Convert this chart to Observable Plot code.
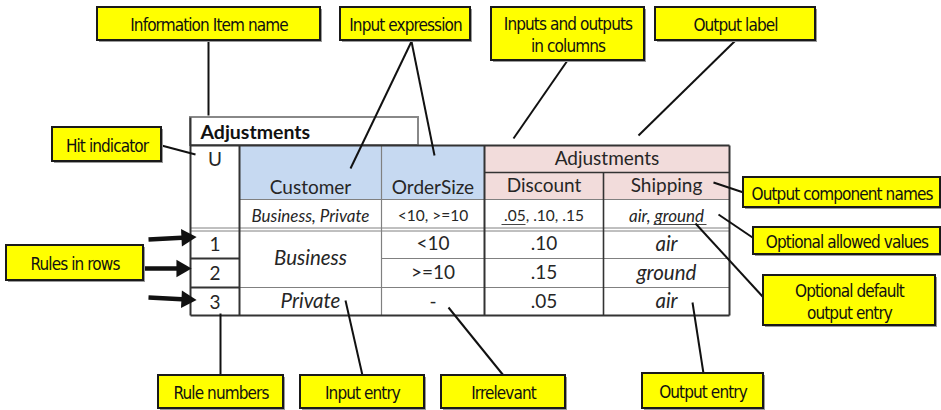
<!DOCTYPE html>
<html><head><meta charset="utf-8">
<script src="https://cdn.jsdelivr.net/npm/d3@7"></script>
<script src="https://cdn.jsdelivr.net/npm/@observablehq/plot@0.6"></script>
<style>
body{margin:0;background:#fff} svg{display:block}
g[font-family*="Narrow"] text{letter-spacing:-0.9px}
</style>
</head><body><div id="chart"></div>
<script>
// ---- table content ----
const tableTitle = "Adjustments";
const hitPolicy = "U";
const inputNames = ["Customer", "OrderSize"];
const outputLabel = "Adjustments";
const outputNames = ["Discount", "Shipping"];
const inputAllowed = ["Business, Private", "<10, >=10"];
const outputAllowed = [".05, .10, .15", "air, ground"];
const ruleNumbers = ["1", "2", "3"];
const customerEntries = ["Business", "Private"];   // Business spans rules 1-2
const orderSizeEntries = ["<10", ">=10", "-"];
const discountEntries = [".10", ".15", ".05"];
const shippingEntries = ["air", "ground", "air"];

// ---- callout content ----
const calloutLabels = [
  "Information Item name", "Input expression", "Inputs and outputs\nin columns", "Output label",
  "Hit indicator", "Output component names", "Optional allowed values", "Rules in rows",
  "Optional default\noutput entry", "Rule numbers", "Input entry", "Irrelevant", "Output entry"
];

// ---- layout (diagram coordinates) ----
const colEdges = [190, 239, 381, 484, 603, 729];
const rowEdges = [145, 172, 199, 229, 258, 287, 315];
const titleBox = {x1: 190, x2: 418, y1: 117, y2: 145};
const calloutBoxes = [
  [97, 320, 7, 40], [340, 470, 7, 40], [491, 644, 7, 60], [655, 815, 7, 40],
  [52, 161, 127, 161], [743, 940, 177, 207], [753, 940, 227, 254], [6, 143, 245, 280],
  [763, 935, 275, 325], [158, 283, 375, 408], [300, 424, 375, 408], [441, 565, 375, 408], [642, 763, 373, 408]
];
const connectors = [
  [208, 41, 208, 115], [411, 41, 350, 168], [411, 41, 434, 155], [567, 60, 513, 138],
  [735, 40, 638, 135], [161, 145, 195, 154], [743, 192, 713, 182], [755, 239, 718, 214],
  [763, 297, 695, 223], [220, 313, 220, 375], [345, 300, 362, 375], [448, 307, 503, 375], [692, 302, 703, 373]
];
const ruleArrows = [[148, 239, 186, 237], [143, 268, 181, 268], [148, 297, 186, 299]];
const underlines = [[501, 525, 224], [653, 706, 224]];

// ---- derived mark data ----
const C = colEdges, R = rowEdges;
const mid = (a, b) => (a + b) / 2;
const blue = "#c6d9f1", pink = "#f2dcdb";

const cells = [
  {x1: C[1], x2: C[2], y1: R[0], y2: R[2], fill: blue},
  {x1: C[2], x2: C[3], y1: R[0], y2: R[2], fill: blue},
  {x1: C[3], x2: C[5], y1: R[0], y2: R[1], fill: pink},
  {x1: C[3], x2: C[4], y1: R[1], y2: R[2], fill: pink},
  {x1: C[4], x2: C[5], y1: R[1], y2: R[2], fill: pink}
];

const dark = "#333", grey = "#808080";
const grid = [
  {x1: C[2], y1: R[0], x2: C[2], y2: R[6], s: grey, w: 1.2},
  {x1: C[1], y1: R[2], x2: C[5], y2: R[2], s: grey, w: 1.2},
  {x1: C[0], y1: R[3] - 1.5, x2: C[5], y2: R[3] - 1.5, s: grey, w: 1},
  {x1: C[0], y1: R[3] + 1.5, x2: C[5], y2: R[3] + 1.5, s: grey, w: 1},
  {x1: C[2], y1: R[4], x2: C[5], y2: R[4], s: grey, w: 1.2},
  {x1: C[1], y1: R[5], x2: C[5], y2: R[5], s: grey, w: 1.2},
  {x1: C[3], y1: R[1], x2: C[5], y2: R[1], s: dark, w: 1.6},
  {x1: C[4], y1: R[1], x2: C[4], y2: R[6], s: dark, w: 1.6},
  {x1: C[3], y1: R[0], x2: C[3], y2: R[6], s: dark, w: 2},
  {x1: C[1], y1: R[0], x2: C[1], y2: R[6], s: dark, w: 2},
  {x1: C[0], y1: R[4], x2: C[1], y2: R[4], s: dark, w: 2},
  {x1: C[0], y1: R[5], x2: C[1], y2: R[5], s: dark, w: 2},
  {x1: C[0], y1: R[0], x2: C[5], y2: R[0], s: dark, w: 2},
  {x1: C[0], y1: R[6], x2: C[5], y2: R[6], s: dark, w: 2},
  {x1: C[0], y1: titleBox.y1, x2: C[0], y2: R[6], s: dark, w: 2},
  {x1: C[5], y1: R[0], x2: C[5], y2: R[6], s: dark, w: 2}
];

const ruleY = [0, 1, 2].map(i => mid(R[3 + i], R[4 + i]));
const colMid = [0, 1, 2, 3, 4].map(i => mid(C[i], C[i + 1]));
const allowY = mid(R[2], R[3]) + 2;

const uprightTexts = [
  {t: hitPolicy, x: colMid[0], y: R[0] + 14, s: 19},
  {t: inputNames[0], x: colMid[1], y: R[2] - 12, s: 19},
  {t: inputNames[1], x: colMid[2], y: R[2] - 12, s: 19},
  {t: outputLabel, x: mid(C[3], C[5]), y: mid(R[0], R[1]), s: 19},
  {t: outputNames[0], x: colMid[3], y: mid(R[1], R[2]), s: 19},
  {t: outputNames[1], x: colMid[4], y: mid(R[1], R[2]), s: 19},
  {t: inputAllowed[1], x: colMid[2], y: allowY, s: 15.5},
  {t: outputAllowed[0], x: colMid[3], y: allowY, s: 15.5},
  ...ruleNumbers.map((t, i) => ({t, x: colMid[0], y: ruleY[i] + 1, s: 19})),
  ...orderSizeEntries.map((t, i) => ({t, x: colMid[2], y: ruleY[i], s: 19})),
  ...discountEntries.map((t, i) => ({t, x: colMid[3], y: ruleY[i], s: 19}))
];
const italicTexts = [
  {t: inputAllowed[0], x: colMid[1], y: allowY, s: 17},
  {t: outputAllowed[1], x: colMid[4], y: allowY, s: 17},
  {t: customerEntries[0], x: colMid[1], y: mid(R[3], R[5]), s: 20.5},
  {t: customerEntries[1], x: colMid[1], y: ruleY[2], s: 20.5},
  ...shippingEntries.map((t, i) => ({t, x: colMid[4], y: ruleY[i], s: 20.5}))
];

const callouts = calloutLabels.map((label, i) => {
  const [x1, x2, y1, y2] = calloutBoxes[i];
  return {label, x1, x2, y1, y2, cx: mid(x1, x2), cy: mid(y1, y2)};
});
const links = connectors.map(([x1, y1, x2, y2]) => ({x1, y1, x2, y2}));
const arrows = ruleArrows.map(([x1, y1, x2, y2]) => ({x1, y1, x2, y2,
  a: Math.atan2(y2 - y1, x2 - x1) * 180 / Math.PI + 90}));
const unders = underlines.map(([x1, x2, y]) => ({x1, x2, y1: y, y2: y}));

const tableFont = "Lato, 'Open Sans', sans-serif";
const noteFont = "'Liberation Sans Narrow', 'DejaVu Sans Condensed', 'Liberation Sans', sans-serif";

const chart = Plot.plot({
  width: 941, height: 410, margin: 0,
  x: {domain: [0, 941], range: [0, 941], axis: null},
  y: {domain: [0, 410], range: [0, 410], axis: null},
  marks: [
    Plot.rect([titleBox], {x1: "x1", x2: "x2", y1: "y1", y2: "y2", fill: "white", stroke: "#888", strokeWidth: 2}),
    Plot.rect(cells, {x1: "x1", x2: "x2", y1: "y1", y2: "y2", fill: "fill"}),
    Plot.link(grid, {x1: "x1", y1: "y1", x2: "x2", y2: "y2", stroke: "s", strokeWidth: "w"}),
    Plot.text([tableTitle], {x: titleBox.x1 + 10, y: mid(titleBox.y1, titleBox.y2) + 1, text: d => d,
      textAnchor: "start", fontWeight: "bold", fontSize: 19.5, fontFamily: tableFont, fill: "#111"}),
    Plot.text(uprightTexts, {x: "x", y: "y", text: "t", fontSize: "s", fontFamily: tableFont, fill: "#262626"}),
    Plot.text(italicTexts, {x: "x", y: "y", text: "t", fontSize: "s", fontStyle: "italic", fontFamily: tableFont, fill: "#262626"}),
    Plot.link(unders, {x1: "x1", y1: "y1", x2: "x2", y2: "y2", stroke: "#444", strokeWidth: 1}),
    Plot.link(links, {x1: "x1", y1: "y1", x2: "x2", y2: "y2", stroke: "#111", strokeWidth: 2}),
    Plot.link(arrows, {x1: "x1", y1: "y1", x2: "x2", y2: "y2", stroke: "#111", strokeWidth: 4.5}),
    Plot.dot(arrows, {x: "x2", y: "y2", symbol: "triangle", r: 6.5, rotate: "a", fill: "#111", stroke: "none"}),
    Plot.rect(callouts, {x1: d => d.x1 + 2, x2: d => d.x2 + 2, y1: d => d.y1 + 2, y2: d => d.y2 + 2, fill: "#9a9a9a"}),
    Plot.rect(callouts, {x1: "x1", x2: "x2", y1: "y1", y2: "y2", fill: "#ffff00", stroke: "#1a1a1a", strokeWidth: 2}),
    Plot.text(callouts, {x: "cx", y: "cy", text: "label", fontSize: 17, lineHeight: 1.3,
      fontFamily: noteFont, fill: "#111"})
  ]
});
document.getElementById("chart").append(chart);
</script></body></html>
